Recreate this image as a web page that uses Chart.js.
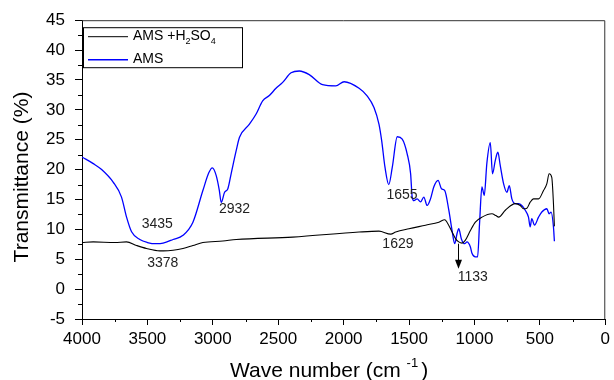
<!DOCTYPE html>
<html>
<head>
<meta charset="utf-8">
<script src="https://cdn.jsdelivr.net/npm/chart.js@4/dist/chart.umd.min.js"></script>
<style>
  html, body { margin: 0; padding: 0; background: #fff; }
  #wrap { width: 614px; height: 380px; position: relative; }
</style>
</head>
<body>
<div id="wrap"><canvas id="c" width="614" height="380"></canvas></div>
<script>
// ---- data (wavenumber cm-1, transmittance %) ----
const amsWave = [4000,3914,3850,3762,3698,3660,3621,3558,3500,3431,3380,3304,3228,3152,3076,3030,3004,2974,2950,2936,2910,2885,2860,2821,2796,2720,2669,2619,2568,2517,2466,2402,2339,2263,2161,2060,1996,1882,1819,1768,1730,1709,1684,1655,1628,1590,1552,1514,1488,1476,1463,1438,1412,1387,1362,1336,1311,1278,1252,1227,1196,1171,1151,1133,1120,1100,1075,1057,1031,1019,993,976,961,943,925,905,879,862,841,821,803,777,752,734,714,688,663,638,612,587,574,562,541,510,485,447,429,414,396,389];
const amsValues = [22.1,21.0,20.0,17.9,15.4,12.1,9.6,8.3,7.8,7.6,7.7,8.3,9.0,11.2,16.5,19.5,20.3,19.0,16.5,14.5,16.2,16.8,19.3,23.2,25.4,27.6,29.3,31.5,32.4,33.6,34.6,36.2,36.5,35.9,34.2,34.0,34.7,33.6,32.3,30.4,27.6,24.8,20.4,17.5,20.4,25.5,25.1,22.6,19.3,15.4,14.8,15.1,14.6,15.4,14.0,15.1,17.1,18.2,16.8,16.5,13.2,9.8,7.6,9.3,10.1,8.4,7.6,7.9,7.05,6.0,5.4,5.4,11.0,17.1,15.7,21.1,24.5,19.3,21.5,22.9,20.7,17.6,16.2,17.3,15.1,14.3,14.3,14.0,13.2,12.05,10.4,11.8,10.7,12.05,12.9,13.45,12.6,12.9,10.4,8.0];

const acidWave = [4000,3914,3750,3660,3583,3507,3406,3378,3304,3228,3152,3076,2923,2821,2390,1882,1730,1640,1602,1501,1374,1272,1227,1210,1171,1145,1120,1095,1069,1031,993,942,866,836,815,764,688,650,625,599,574,549,510,472,447,429,409,396,389];
const acidValues = [7.8,7.9,7.8,7.9,7.3,6.8,6.4,6.4,6.5,6.8,7.3,7.8,8.05,8.3,8.7,9.55,9.7,9.2,9.55,10.1,10.7,11.2,11.6,11.2,9.55,8.45,7.9,7.7,8.2,9.8,11.2,12.05,12.6,12.3,12.05,13.2,14.3,14.0,13.45,13.55,14.55,15.1,15.1,16.5,17.6,19.3,18.7,14.3,10.5];

const seriesNames = ['AMS +H2SO4', 'AMS'];
const xTicks = [4000,3500,3000,2500,2000,1500,1000,500,0];
const yTicks = [-5,0,5,10,15,20,25,30,35,40,45];

// peak labels (text, wavenumber, value) and arrow for 1133
const annoText = ['3435','2932','3378','1655','1629','1133'];
const annoWave = [3425,2834,3383,1554,1585,1013];
const annoValue = [10.8,13.3,4.3,15.7,7.6,2.05];
const arrowWave = 1128;
const arrowFrom = 7.6;
const arrowTo = 3.4;

const FONT = '"Liberation Sans", Arial, Helvetica, sans-serif';

function toPts(xs, ys) { return xs.map((x, i) => ({x: x, y: ys[i]})); }

const decor = {
  id: 'decor',
  afterDraw(chart) {
    const ctx = chart.ctx;
    const xs = chart.scales.x, ys = chart.scales.y;
    const a = chart.chartArea;
    ctx.save();
    // frame top/right
    ctx.strokeStyle = '#333';
    ctx.lineWidth = 1;
    ctx.beginPath();
    ctx.moveTo(a.left, a.top + 0.5);
    ctx.lineTo(a.right - 0.5, a.top + 0.5);
    ctx.lineTo(a.right - 0.5, a.bottom);
    ctx.stroke();
    // minor ticks
    ctx.strokeStyle = '#000';
    ctx.beginPath();
    for (let v = 3750; v > 0; v -= 500) {
      const px = Math.round(xs.getPixelForValue(v)) + 0.5;
      ctx.moveTo(px, a.bottom); ctx.lineTo(px, a.bottom + 3);
    }
    for (let v = -2.5; v < 45; v += 5) {
      const py = Math.round(ys.getPixelForValue(v)) + 0.5;
      ctx.moveTo(a.left, py); ctx.lineTo(a.left - 4, py);
    }
    ctx.stroke();

    // annotations
    ctx.fillStyle = '#222';
    ctx.font = '14px ' + FONT;
    ctx.textAlign = 'center';
    ctx.textBaseline = 'middle';
    annoText.forEach((t, i) => {
      ctx.fillText(t, xs.getPixelForValue(annoWave[i]), ys.getPixelForValue(annoValue[i]));
    });
    // arrow
    const ax = Math.round(xs.getPixelForValue(arrowWave)) + 0.5;
    const ay0 = ys.getPixelForValue(arrowFrom);
    const ay1 = ys.getPixelForValue(arrowTo);
    ctx.strokeStyle = '#000';
    ctx.beginPath(); ctx.moveTo(ax, ay0); ctx.lineTo(ax, ay1 - 8); ctx.stroke();
    ctx.fillStyle = '#000';
    ctx.beginPath(); ctx.moveTo(ax - 3.5, ay1 - 9); ctx.lineTo(ax + 3.5, ay1 - 9); ctx.lineTo(ax, ay1); ctx.closePath(); ctx.fill();

    // legend box
    const lx = a.left + 1, ly = a.top + 7, lw = 159, lh = 40;
    ctx.fillStyle = '#fff';
    ctx.fillRect(lx, ly, lw, lh);
    ctx.strokeStyle = '#000';
    ctx.lineWidth = 1;
    ctx.strokeRect(lx + 0.5, ly + 0.5, lw, lh);
    const rows = [{c: '#000', y: ly + 9}, {c: '#0000ff', y: ly + 32}];
    rows.forEach(r => {
      ctx.strokeStyle = r.c; ctx.lineWidth = r.c === '#000' ? 1 : 1.4;
      ctx.beginPath(); ctx.moveTo(lx + 5, r.y + 0.5); ctx.lineTo(lx + 45, r.y + 0.5); ctx.stroke();
    });
    ctx.fillStyle = '#000';
    ctx.textAlign = 'left';
    ctx.textBaseline = 'middle';
    // "AMS +H2SO4" with subscripts
    let tx = lx + 50;
    const big = '14px ' + FONT, small = '9px ' + FONT;
    const parts = [['AMS +H', big, 0], ['2', small, 5], ['SO', big, 0], ['4', small, 5]];
    parts.forEach(p => {
      ctx.font = p[1];
      ctx.fillText(p[0], tx, rows[0].y + p[2]);
      tx += ctx.measureText(p[0]).width;
    });
    ctx.font = big;
    ctx.fillText(seriesNames[1], lx + 50, rows[1].y);

    // axis titles
    ctx.fillStyle = '#000';
    ctx.font = '21px ' + FONT;
    ctx.textBaseline = 'alphabetic';
    ctx.textAlign = 'left';
    let x0 = 230, base = 377;
    const t1 = 'Wave number (cm ';
    ctx.fillText(t1, x0, base); x0 += ctx.measureText(t1).width;
    ctx.font = '13px ' + FONT;
    ctx.fillText('-1', x0, base - 10); x0 += ctx.measureText('-1').width + 3;
    ctx.font = '21px ' + FONT;
    ctx.fillText(')', x0, base);

    ctx.translate(22, 177);
    ctx.rotate(-Math.PI / 2);
    ctx.textAlign = 'center';
    ctx.textBaseline = 'middle';
    ctx.fillText('Transmittance (%)', 0, 0);
    ctx.restore();
  }
};

new Chart(document.getElementById('c'), {
  type: 'line',
  data: {
    datasets: [
      { label: seriesNames[0], data: toPts(acidWave, acidValues), borderColor: '#000', borderWidth: 1.1,
        pointRadius: 0, fill: false, cubicInterpolationMode: 'monotone' },
      { label: seriesNames[1], data: toPts(amsWave, amsValues), borderColor: '#0000ff', borderWidth: 1.3,
        pointRadius: 0, fill: false, cubicInterpolationMode: 'monotone' }
    ]
  },
  options: {
    responsive: false,
    animation: false,
    devicePixelRatio: 1,
    layout: { padding: { top: 19, right: 7, left: 0, bottom: 0 } },
    plugins: { legend: { display: false }, tooltip: { enabled: false } },
    scales: {
      x: {
        type: 'linear', reverse: true, min: 0, max: 4000,
        afterBuildTicks: s => { s.ticks = xTicks.map(v => ({value: v})); },
        afterFit: s => { s.height = 61; },
        ticks: { font: { size: 17, family: FONT }, color: '#000', padding: 4, maxRotation: 0, autoSkip: false,
                 callback: v => String(v) },
        grid: { drawOnChartArea: false, drawTicks: true, tickLength: 6, color: '#000', lineWidth: 1 },
        border: { display: true, color: '#000', width: 1 },
        title: { display: false }
      },
      y: {
        type: 'linear', min: -5, max: 45,
        afterBuildTicks: s => { s.ticks = yTicks.map(v => ({value: v})); },
        afterFit: s => { s.width = 82; },
        ticks: { font: { size: 17, family: FONT }, color: '#000', padding: 10, autoSkip: false,
                 callback: v => String(v) },
        grid: { drawOnChartArea: false, drawTicks: true, tickLength: 7, color: '#000', lineWidth: 1 },
        border: { display: true, color: '#000', width: 1 },
        title: { display: false }
      }
    }
  },
  plugins: [decor]
});
</script>
</body>
</html>
